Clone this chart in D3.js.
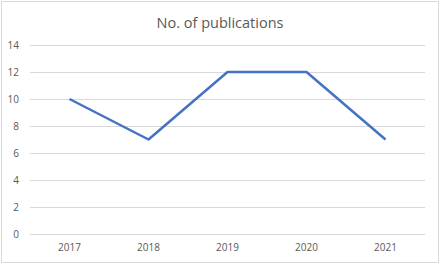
<!DOCTYPE html>
<html>
<head>
<meta charset="utf-8">
<script src="https://cdn.jsdelivr.net/npm/d3@7"></script>
<style>
  body { margin: 0; background: #fff; }
  svg { display: block; }
</style>
</head>
<body>
<div id="chart"></div>
<script>
const years = ["2017", "2018", "2019", "2020", "2021"];
const publications = [10, 7, 12, 12, 7];
const yTicks = [0, 2, 4, 6, 8, 10, 12, 14];
const title = "No. of publications";

const W = 440, H = 264;
const margin = { top: 45, right: 15, bottom: 30, left: 30 };
const width = W - margin.left - margin.right,
    height = H - margin.top - margin.bottom;

const svg = d3.select("#chart")
    .append("svg")
    .attr("width", W)
    .attr("height", H);

// chart frame
svg.append("rect")
    .attr("x", 1.5).attr("y", 1.5)
    .attr("width", W - 3).attr("height", H - 3)
    .attr("fill", "#fff")
    .attr("stroke", "#d9d9d9");

svg.append("text")
    .attr("x", W / 2)
    .attr("y", 28)
    .attr("text-anchor", "middle")
    .style("font-family", "'Open Sans', sans-serif")
    .style("font-size", "14.5px")
    .attr("fill", "#595959")
    .text(title);

const g = svg.append("g")
    .attr("transform", `translate(${margin.left}, ${margin.top})`);

const x = d3.scaleBand()
    .domain(years)
    .range([0, width]);

const y = d3.scaleLinear()
    .domain([0, 14])
    .range([height, 0]);

// gridlines
g.append("g")
    .selectAll("line")
    .data(yTicks)
    .join("line")
    .attr("x1", 0).attr("x2", width)
    .attr("y1", d => Math.round(y(d)) + 0.5)
    .attr("y2", d => Math.round(y(d)) + 0.5)
    .attr("stroke", "#d9d9d9");

const yAxis = g.append("g")
    .call(d3.axisLeft(y).tickValues(yTicks).tickSize(0).tickPadding(11));
yAxis.select(".domain").remove();
yAxis.selectAll("text")
    .style("font-family", "'Open Sans', sans-serif")
    .style("font-size", "10px")
    .attr("fill", "#595959");

const xAxis = g.append("g")
    .attr("transform", `translate(0, ${height})`)
    .call(d3.axisBottom(x).tickSize(0).tickPadding(10));
xAxis.select(".domain").remove();
xAxis.selectAll("text")
    .style("font-family", "'Open Sans', sans-serif")
    .style("font-size", "10px")
    .attr("fill", "#595959");

const line = d3.line()
    .x((d, i) => x(years[i]) + x.bandwidth() / 2)
    .y(d => y(d));

g.append("path")
    .datum(publications)
    .attr("fill", "none")
    .attr("stroke", "#4472c4")
    .attr("stroke-width", 2.5)
    .attr("stroke-linejoin", "round")
    .attr("d", line);
</script>
</body>
</html>
